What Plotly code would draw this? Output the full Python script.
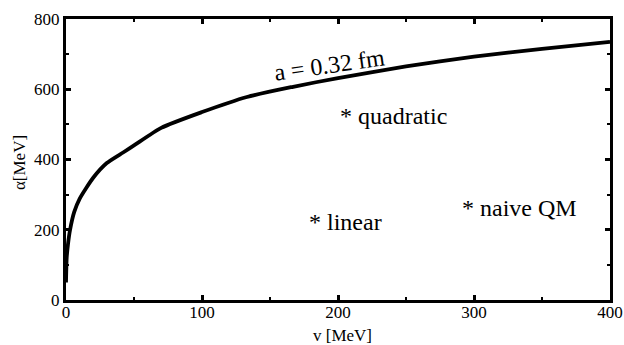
import plotly.graph_objects as go

# curve data
v_vals = [0, 0.5, 1.5, 3, 6, 10, 20, 30, 42, 50, 70, 100, 133, 167, 200, 250, 300, 350, 400]
alpha_vals = [50, 120, 160, 200, 250, 288, 348, 390, 420, 440, 490, 535, 578, 607, 632, 665, 693, 715, 735]

# text labels (data coordinates)
label_texts = ["* quadratic", "* linear", "* naive QM"]
label_x = [200, 177, 290]
label_y = [525, 222, 262]

curve_label = "a = 0.32 fm"
curve_label_x = 194
curve_label_y = 668

x_ticks = [0, 100, 200, 300, 400]
y_ticks = [0, 200, 400, 600, 800]

x_title = "v [MeV]"
y_title = "α[MeV]"

FONT = "Liberation Serif"

fig = go.Figure()
fig.add_trace(go.Scatter(x=v_vals, y=alpha_vals, mode="lines",
                         line=dict(color="black", width=3.8, shape="spline", smoothing=0.6),
                         showlegend=False, hoverinfo="skip"))

annotations = []
for t, x, y in zip(label_texts, label_x, label_y):
    annotations.append(dict(x=x, y=y, xref="x", yref="y", text=t, showarrow=False,
                            xanchor="left", yanchor="middle",
                            font=dict(family=FONT, size=24, color="black")))
annotations.append(dict(x=curve_label_x, y=curve_label_y, xref="x", yref="y", text=curve_label,
                        showarrow=False, textangle=-8, xanchor="center", yanchor="middle",
                        font=dict(family=FONT, size=24, color="black")))
annotations.append(dict(x=0.509, y=-0.128, xref="paper", yref="paper", text=x_title,
                        showarrow=False, xanchor="center", yanchor="middle",
                        font=dict(family=FONT, size=17, color="black")))
annotations.append(dict(x=-0.085, y=0.49, xref="paper", yref="paper", text=y_title,
                        showarrow=False, xanchor="center", yanchor="middle", textangle=-90,
                        font=dict(family=FONT, size=17, color="black")))

axis_common = dict(showline=True, linecolor="black", linewidth=3, mirror="allticks",
                   ticks="inside", ticklen=5, tickwidth=2.5, tickcolor="black",
                   showgrid=False, zeroline=False, automargin=False,
                   tickfont=dict(family=FONT, size=17, color="black"))

fig.update_layout(
    width=624, height=345,
    margin=dict(l=66, r=14, t=19, b=45),
    paper_bgcolor="white", plot_bgcolor="white",
    font=dict(family=FONT, color="black"),
    annotations=annotations,
    xaxis=dict(range=[0, 400], tickvals=x_ticks, ticklabelstandoff=-5,
               minor=dict(dtick=50, ticks="inside", ticklen=3, tickwidth=1.5, tickcolor="black"),
               **axis_common),
    yaxis=dict(range=[0, 800], tickvals=y_ticks,
               minor=dict(dtick=100, ticks="inside", ticklen=3, tickwidth=1.5, tickcolor="black"),
               **axis_common),
)

fig.write_html("out.html", config={"displayModeBar": False},
               post_script="document.body.style.margin='0';")
